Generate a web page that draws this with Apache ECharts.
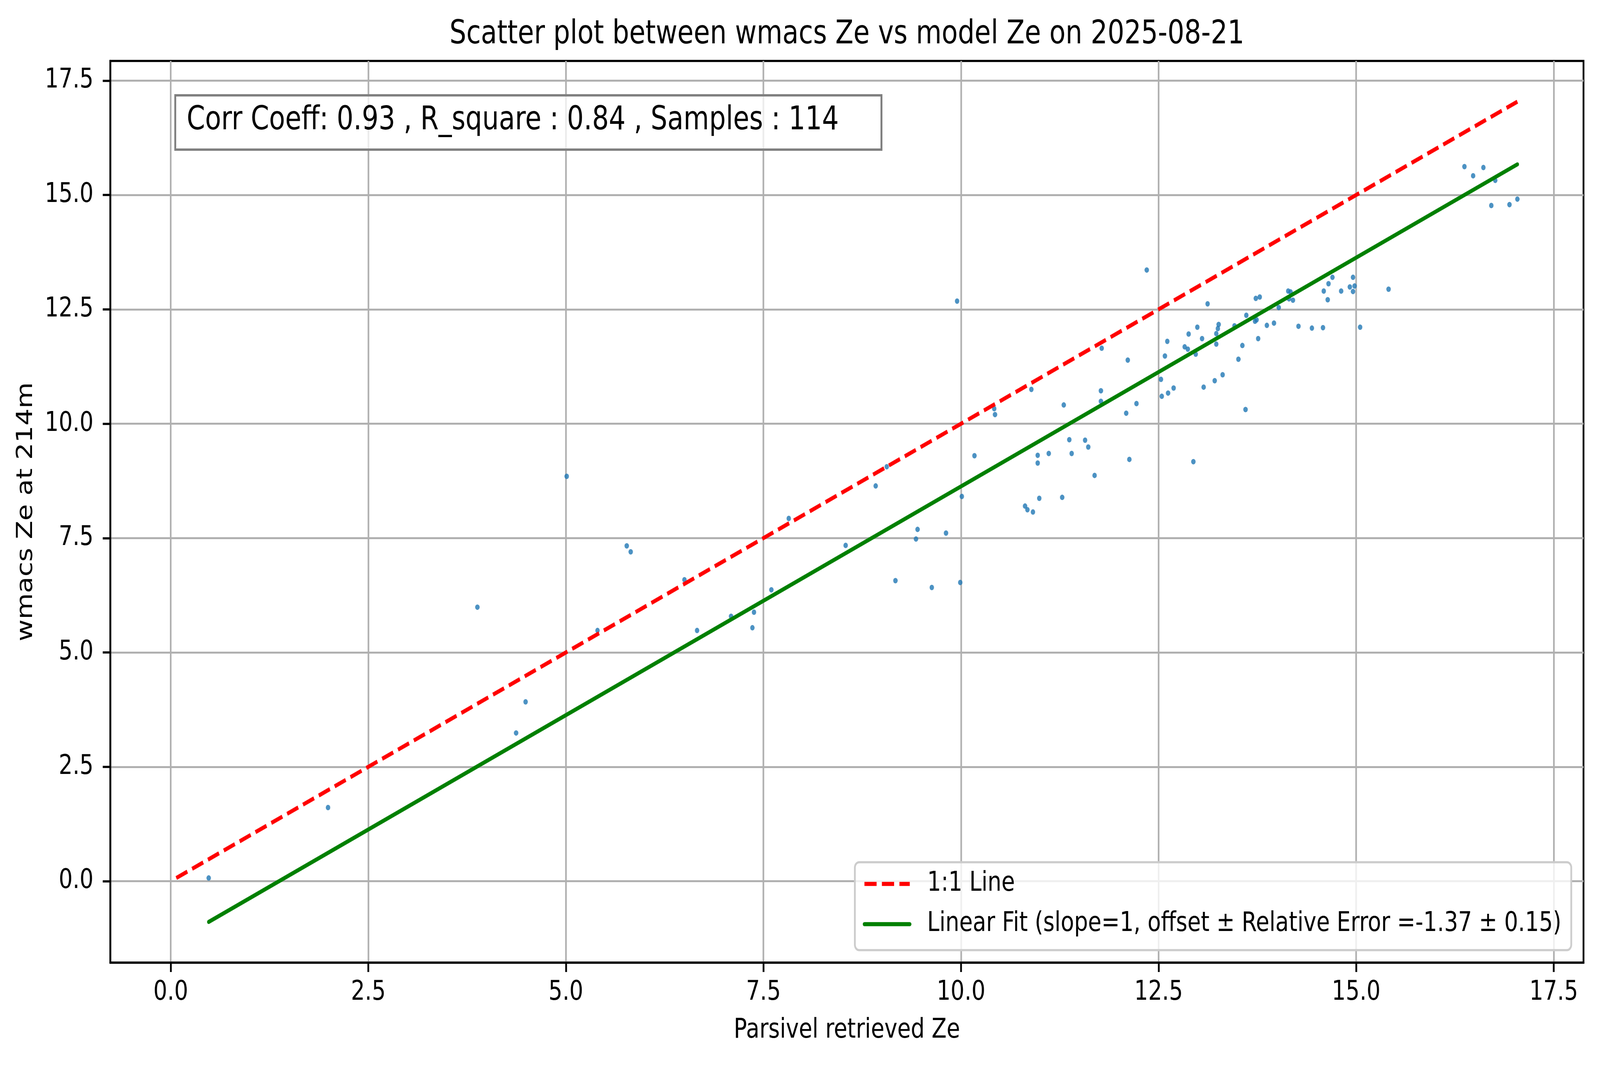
<!DOCTYPE html>
<html><head><meta charset="utf-8">
<script src="https://cdn.jsdelivr.net/npm/echarts@6/dist/echarts.min.js"></script>
<style>html,body{margin:0;padding:0;background:#fff;overflow:hidden}
#wrap{position:absolute;left:0;top:0;width:5048px;height:2726px;transform-origin:0 0}
#c{width:5048px;height:2726px}</style>
</head><body><div id="wrap"><div id="c"></div></div>
<script>
// ---- data ----
const xs = [0.48,1.99,3.88,4.37,4.49,5.01,5.40,5.77,5.82,
  6.50,6.66,7.09,7.38,7.36,7.60,7.82,8.54,8.92,9.06,9.17,9.43,9.45,9.63,9.81,9.95,9.99,10.01,10.17,10.42,10.43,
  12.35,10.89,11.30,11.78,11.77,11.77,12.11,12.09,12.22,11.37,11.57,11.61,11.40,10.97,10.97,11.11,11.69,12.13,10.99,11.28,10.81,10.84,10.91,
  12.53,12.54,12.58,12.61,12.62,12.69,12.83,12.87,12.88,12.99,13.05,12.97,13.07,12.94,
  13.12,13.26,13.25,13.23,13.23,13.21,13.31,13.46,13.51,13.56,13.61,13.60,13.72,13.74,13.73,13.78,13.76,13.87,13.96,14.02,
  14.14,14.17,14.15,14.20,14.27,14.44,14.58,14.59,14.64,14.65,14.70,14.81,14.92,14.96,14.98,14.96,15.05,15.41,
  16.37,16.48,16.61,16.76,16.71,16.94,17.04];
const ys = [0.07,1.61,5.99,3.24,3.92,8.85,5.48,7.33,7.20,
  6.59,5.48,5.79,5.88,5.54,6.37,7.93,7.34,8.64,9.06,6.57,7.48,7.69,6.42,7.61,12.68,6.53,8.41,9.30,10.33,10.20,
  13.36,10.75,10.41,11.65,10.72,10.49,11.39,10.23,10.44,9.65,9.64,9.49,9.35,9.31,9.14,9.35,8.87,9.22,8.37,8.39,8.20,8.12,8.07,
  10.97,10.60,11.48,11.80,10.67,10.78,11.68,11.63,11.96,12.11,11.86,11.52,10.80,9.17,
  12.62,12.17,12.08,11.97,11.74,10.94,11.07,12.14,11.41,11.71,12.37,10.31,12.24,12.27,12.74,12.77,11.86,12.15,12.20,12.54,
  12.90,12.88,12.73,12.70,12.13,12.09,12.10,12.90,12.71,13.06,13.20,12.90,12.99,13.20,13.01,12.89,12.11,12.94,
  15.62,15.42,15.60,15.32,14.77,14.79,14.91];
const fitOffset = -1.37;
const xTicks = [0, 2.5, 5, 7.5, 10, 12.5, 15, 17.5];
const xTickLabels = ['0.0','2.5','5.0','7.5','10.0','12.5','15.0','17.5'];
const yTicks = [0, 2.5, 5, 7.5, 10, 12.5, 15, 17.5];
const yTickLabels = ['0.0','2.5','5.0','7.5','10.0','12.5','15.0','17.5'];
const xRange = [-0.765, 17.877];
const yRange = [-1.78, 17.93];
const titleText = 'Scatter plot between wmacs Ze vs model Ze on 2025-08-21';
const statsText = 'Corr Coeff: 0.93 , R_square : 0.84 , Samples : 114';
const xName = 'Parsivel retrieved Ze';
const yName = 'wmacs Ze at 214m';
const seriesNames = ['1:1 Line', 'Linear Fit (slope=1, offset \u00b1 Relative Error =-1.37 \u00b1 0.15)'];

// ---- design canvas is 5048x2726; scale it to whatever the viewport is ----
const W = 5048, H = 2726;
const wrap = document.getElementById('wrap');
wrap.style.transform = 'scale(' + (window.innerWidth / W) + ',' + (window.innerHeight / H) + ')';

// ---- derived series ----
const pts = xs.map((x, i) => [x, ys[i]]);
const lo = Math.min(Math.min(...xs), Math.min(...ys));
const hi = Math.max(Math.max(...xs), Math.max(...ys));
const oneToOne = [[lo, lo], [hi, hi]];
const xmin = Math.min(...xs), xmax = Math.max(...xs);
const fitLine = [[xmin, xmin + fitOffset], [xmax, xmax + fitOffset]];

const FONT = 'DejaVu Sans';
const LW = 10.4;
const mctx = document.createElement('canvas').getContext('2d');
function textW(t, size) { mctx.font = size + 'px "' + FONT + '"'; return mctx.measureText(t).width; }

const TITLE_FS = 83.4, STATS_FS = 83;
const gridL = 348, gridR = 52;
const axesCenter = (gridL + (W - gridR)) / 2;
const titleLeft = axesCenter - textW(titleText, TITLE_FS) / 2;
const boxLeft = 553, boxWidth = 2228, boxPadL = 36;
const boxPadR = boxWidth - boxPadL - textW(statsText, STATS_FS);

const chart = echarts.init(document.getElementById('c'), null, {renderer: 'canvas'});
function lab(ticks, labels) { return v => { const i = ticks.findIndex(t => Math.abs(t - v) < 1e-6); return i >= 0 ? labels[i] : ''; }; }

chart.setOption({
  animation: false,
  backgroundColor: '#fff',
  title: [
    { text: titleText, left: titleLeft, top: 47, padding: 0,
      textStyle: { fontFamily: FONT, fontSize: TITLE_FS, fontWeight: 'normal', color: '#000', lineHeight: 84 } },
    { text: statsText, left: boxLeft, top: 244, padding: [23, boxPadR, 32, boxPadL],
      backgroundColor: 'rgba(255,255,255,0.75)', borderColor: '#808080', borderWidth: 6,
      textStyle: { fontFamily: FONT, fontSize: STATS_FS, fontWeight: 'normal', color: '#000', lineHeight: 84 } }
  ],
  grid: { left: gridL, right: gridR, top: 156, bottom: 262, show: true, borderColor: '#000', borderWidth: 5.6, backgroundColor: 'transparent' },
  legend: {
    data: seriesNames, orient: 'vertical', left: 2697, top: 2207,
    padding: [21, 31, 32, 25], itemWidth: 143, itemHeight: 69, itemGap: 34,
    backgroundColor: 'rgba(255,255,255,0.8)', borderColor: '#cccccc', borderWidth: 5.6, borderRadius: 14,
    lineStyle: { width: LW },
    itemStyle: { color: 'rgba(0,0,0,0)', borderWidth: 0, opacity: 0 },
    textStyle: { fontFamily: FONT, fontSize: 69, color: '#000', lineHeight: 69, padding: [0, 0, 0, 50] },
    selectedMode: false
  },
  xAxis: {
    type: 'value', min: xRange[0], max: xRange[1],
    name: xName, nameLocation: 'middle', nameGap: 140,
    nameTextStyle: { fontFamily: FONT, fontSize: 69, color: '#000' },
    axisLine: { show: true, onZero: false, lineStyle: { color: '#000', width: 5.6 } },
    axisTick: { show: true, length: 24, lineStyle: { color: '#000', width: 5.6 }, customValues: xTicks },
    axisLabel: { margin: 43, fontFamily: FONT, fontSize: 69, color: '#000', customValues: xTicks, formatter: lab(xTicks, xTickLabels) },
    splitLine: { show: true, lineStyle: { color: '#b0b0b0', width: 5.2 } }
  },
  yAxis: {
    type: 'value', min: yRange[0], max: yRange[1],
    name: yName, nameLocation: 'middle', nameGap: 230,
    nameTextStyle: { fontFamily: FONT, fontSize: 69, color: '#000' },
    axisLine: { show: true, onZero: false, lineStyle: { color: '#000', width: 5.6 } },
    axisTick: { show: true, length: 24, lineStyle: { color: '#000', width: 5.6 }, customValues: yTicks },
    axisLabel: { margin: 53, fontFamily: FONT, fontSize: 69, color: '#000', customValues: yTicks, formatter: lab(yTicks, yTickLabels) },
    splitLine: { show: true, lineStyle: { color: '#b0b0b0', width: 5.2 } }
  },
  series: [
    { type: 'scatter', name: 'points', data: pts, symbol: 'circle', symbolSize: 14, itemStyle: { color: '#1f77b4' } },
    { type: 'line', name: seriesNames[0], data: oneToOne, symbol: 'none', showSymbol: false,
      lineStyle: { color: '#ff0000', width: LW, type: [38.5, 16.7] }, itemStyle: { color: '#ff0000' } },
    { type: 'line', name: seriesNames[1], data: fitLine, symbol: 'none', showSymbol: false,
      lineStyle: { color: '#008000', width: LW, cap: 'round' }, itemStyle: { color: '#008000' } }
  ]
});
</script></body></html>
